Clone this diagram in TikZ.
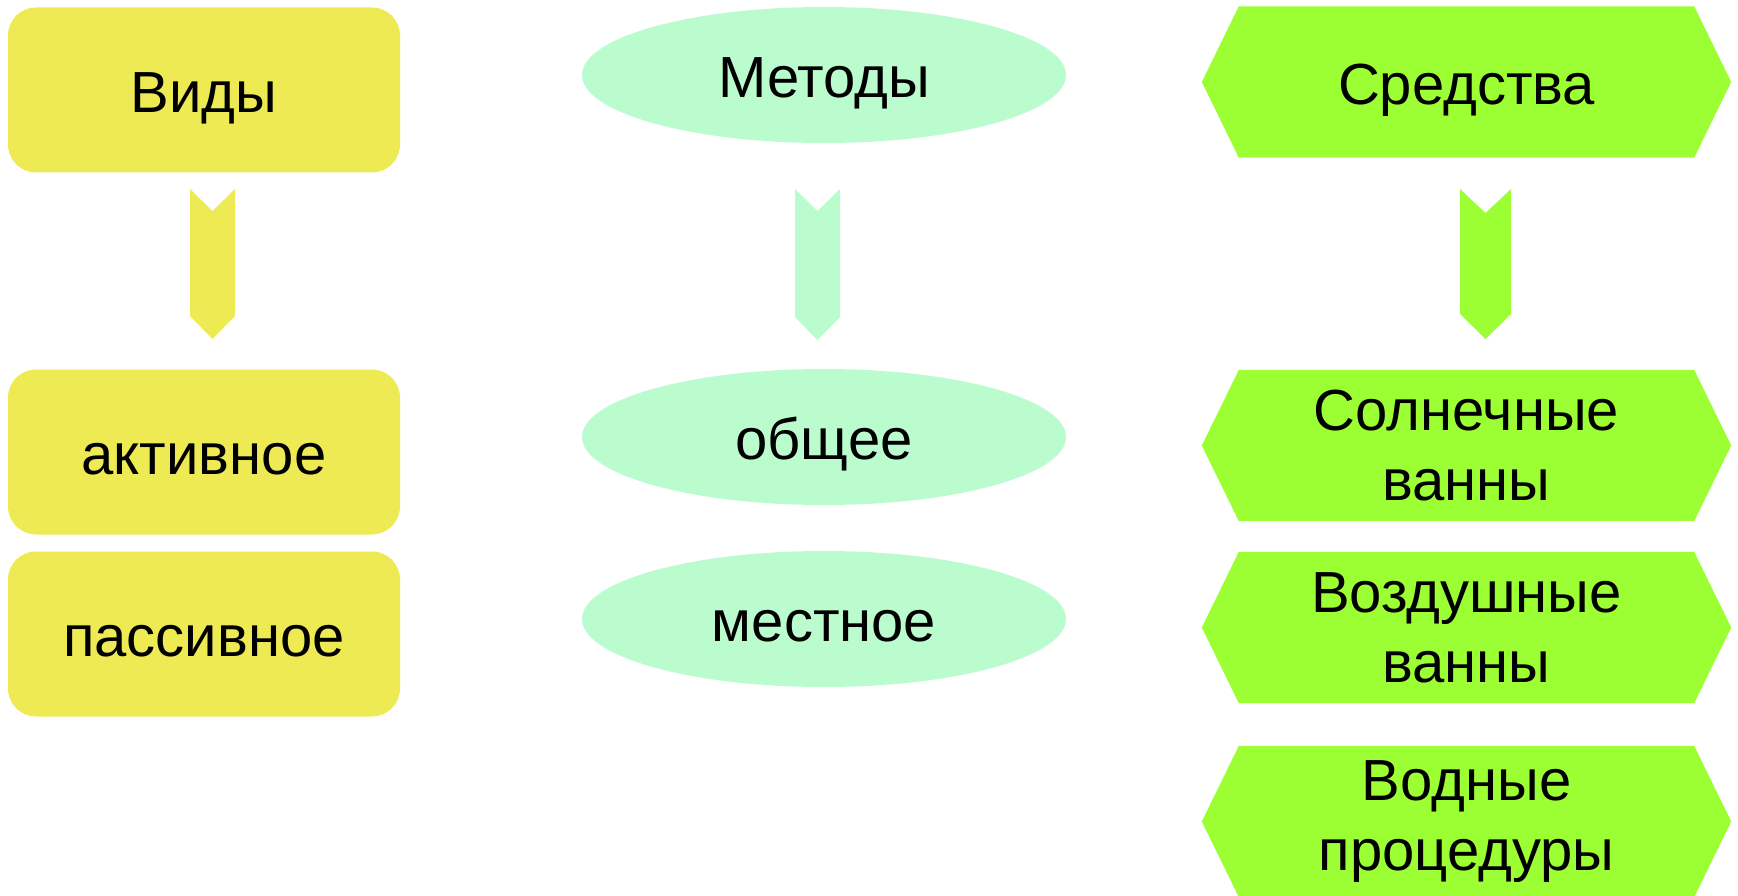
\documentclass[tikz,border=0pt]{standalone}
\usepackage{fontspec}
\setmainfont{Liberation Sans}
\usetikzlibrary{shapes.geometric,backgrounds}
\definecolor{cyellow}{RGB}{237,234,84}
\definecolor{cmint}{RGB}{187,252,206}
\definecolor{clime}{RGB}{156,255,52}
\tikzset{
  txt/.style={font=\fontsize{58}{70}\selectfont, text=black, align=center, inner sep=0pt},
  oneline/.style={text height=48pt, text depth=3pt},
  ybox/.style={txt, oneline, rectangle, rounded corners=28pt, fill=cyellow, minimum width=392pt, minimum height=165pt},
  mell/.style={txt, oneline, ellipse, fill=cmint, minimum width=484pt, minimum height=136pt},
  hexbox/.style={txt, rectangle, minimum width=455pt, minimum height=151pt},
  hexfill/.style={fill=clime},
}
\begin{document}
\begin{tikzpicture}[x=1pt,y=-1pt]
\useasboundingbox (0,0) rectangle (1738,896);
% left column
\node[ybox] (vidy) at (204,90) {Виды};
\node[ybox] (akt) at (204,452) {активное};
\node[ybox] (pas) at (204,634) {пассивное};
% middle column
\node[mell] (met) at (824,75) {Методы};
\node[mell] (obs) at (824,437) {общее};
\node[mell] (mes) at (824,619) {местное};
% right column
\node[hexbox, oneline] (sred) at (1466.5,82) {Средства};
\node[hexbox] (soln) at (1466.5,445.5) {Солнечные\\ванны};
\node[hexbox] (vozd) at (1466.5,627.5) {Воздушные\\ванны};
\node[hexbox] (vodn) at (1466.5,821.5) {Водные\\процедуры};
\begin{scope}[on background layer]
\foreach \n in {sred,soln,vozd,vodn}{
  \fill[hexfill] (\n.north west) -- (\n.north east) -- ([xshift=37pt]\n.east)
     -- (\n.south east) -- (\n.south west) -- ([xshift=-37pt]\n.west) -- cycle;
}
\end{scope}
% chevron arrows
\fill[cyellow] (190,189) -- (212.5,211) -- (235,189) -- (235,316) -- (212.5,339) -- (190,316) -- cycle;
\fill[cmint] (795,189) -- (817.5,211) -- (840,189) -- (840,317) -- (817.5,340) -- (795,317) -- cycle;
\fill[clime] (1460,189) -- (1485.5,213) -- (1511,189) -- (1511,314) -- (1485.5,339) -- (1460,314) -- cycle;
\end{tikzpicture}
\end{document}
